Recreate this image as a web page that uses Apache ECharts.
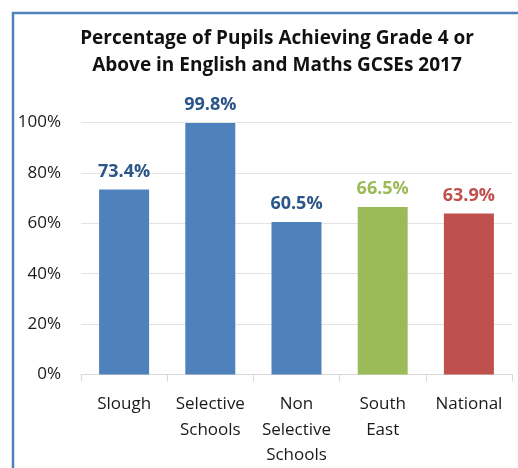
<!DOCTYPE html>
<html>
<head>
<meta charset="utf-8">
<script src="https://cdn.jsdelivr.net/npm/echarts@6/dist/echarts.min.js"></script>
<style>
  html, body { margin: 0; padding: 0; background: #fff; }
  #chart { width: 518px; height: 468px; }
</style>
</head>
<body>
<div id="chart"></div>
<script>
// GCSE grade 4+ in English and Maths, 2017
const categories = ['Slough', 'Selective\nSchools', 'Non\nSelective\nSchools', 'South\nEast', 'National'];
const values = [73.4, 99.8, 60.5, 66.5, 63.9];
const barColors = ['#4F81BD', '#4F81BD', '#4F81BD', '#9BBB59', '#C0504D'];
const labelColors = ['#2C5687', '#2C5687', '#2C5687', '#9BBB59', '#C0504D'];
const yTicks = [0, 20, 40, 60, 80, 100];

const chart = echarts.init(document.getElementById('chart'), null, { renderer: 'canvas' });

chart.setOption({
  animation: false,
  backgroundColor: '#fff',
  graphic: [{
    type: 'rect',
    shape: { x: 13, y: 13, width: 700, height: 700 },
    style: { fill: null, stroke: '#4F81BD', lineWidth: 2.5 },
    silent: true
  }],
  title: {
    text: 'Percentage of Pupils Achieving Grade 4 or\nAbove in English and Maths GCSEs 2017',
    left: 272,
    top: 20,
    textAlign: 'center',
    textStyle: {
      fontFamily: 'Open Sans',
      fontWeight: 'bold',
      fontSize: 19,
      lineHeight: 27,
      color: '#111'
    }
  },
  grid: { left: 81, right: 6, top: 122.5, bottom: 89.5, containLabel: false },
  xAxis: {
    type: 'category',
    data: categories,
    axisLine: { lineStyle: { color: '#D9D9D9', width: 1 } },
    axisTick: { show: true, length: 7, alignWithLabel: false, lineStyle: { color: '#D9D9D9' } },
    axisLabel: {
      interval: 0,
      margin: 17,
      fontFamily: 'Open Sans',
      fontSize: 17,
      lineHeight: 25.5,
      color: '#1a1a1a'
    }
  },
  yAxis: {
    type: 'value',
    min: 0,
    max: 100,
    interval: 20,
    axisLine: { show: false },
    axisTick: { show: false },
    splitLine: { lineStyle: { color: '#E3E3E3', width: 1 } },
    axisLabel: {
      margin: 20,
      fontFamily: 'Open Sans',
      fontSize: 17,
      color: '#1a1a1a',
      formatter: v => (yTicks.includes(v) ? v + '%' : '')
    }
  },
  series: [{
    type: 'bar',
    barWidth: 50,
    data: values.map((v, i) => ({
      value: v,
      itemStyle: { color: barColors[i] },
      label: { color: labelColors[i] }
    })),
    label: {
      show: true,
      position: 'top',
      distance: 9,
      fontFamily: 'Open Sans',
      fontWeight: 'bold',
      fontSize: 18,
      formatter: p => p.value.toFixed(1) + '%'
    }
  }]
});
</script>
</body>
</html>
